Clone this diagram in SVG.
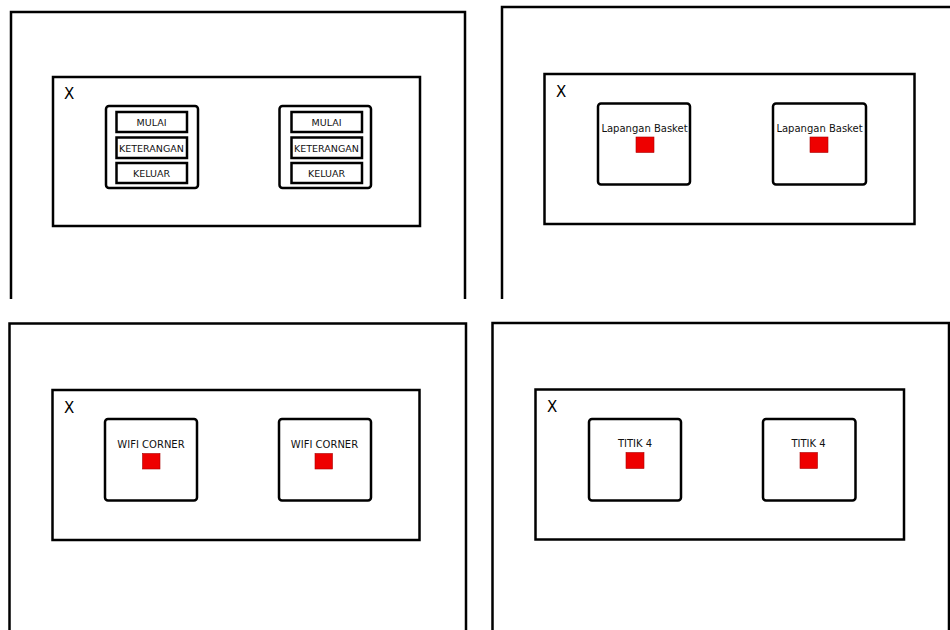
<svg xmlns="http://www.w3.org/2000/svg" width="950" height="630" viewBox="0 0 950 630">
<style>
.panel{fill:none;stroke:#000;stroke-width:2.5}
.win{fill:#fff;stroke:#000;stroke-width:2.5}
.box{fill:#fff;stroke:#000;stroke-width:2.5}
.btn{fill:#fff;stroke:#000;stroke-width:2.5}
.red{fill:#ee0000;stroke:#a00;stroke-width:0.6}
.x{font-family:"DejaVu Sans","Liberation Sans",sans-serif;font-size:15px;fill:#000}
.bt{font-family:"DejaVu Sans","Liberation Sans",sans-serif;font-size:9.5px;fill:#111;text-anchor:middle}
.lb{font-family:"DejaVu Sans","Liberation Sans",sans-serif;font-size:10px;fill:#111;text-anchor:middle}
</style>
<rect width="950" height="630" fill="#fff"/>

<g id="panel1">
  <path class="panel" d="M11,299 V12 H465 V299"/>
  <rect class="win" x="53" y="77" width="367" height="149"/>
  <text class="x" x="64" y="99">X</text>
  <g id="menu1">
    <rect class="box" x="106" y="106" width="92" height="82" rx="3"/>
    <rect class="btn" x="116.5" y="112" width="70.5" height="20"/>
    <rect class="btn" x="116.5" y="137.5" width="70.5" height="20.5"/>
    <rect class="btn" x="116.5" y="163" width="70.5" height="20"/>
    <text class="bt" x="151.5" y="125.5">MULAI</text>
    <text class="bt" x="151.5" y="151.5">KETERANGAN</text>
    <text class="bt" x="151.5" y="177">KELUAR</text>
  </g>
  <g id="menu2">
    <rect class="box" x="279.5" y="106" width="91.5" height="82" rx="3"/>
    <rect class="btn" x="291.5" y="112" width="70.5" height="20"/>
    <rect class="btn" x="291.5" y="137.5" width="70.5" height="20.5"/>
    <rect class="btn" x="291.5" y="163" width="70.5" height="20"/>
    <text class="bt" x="326.5" y="125.5">MULAI</text>
    <text class="bt" x="326.5" y="151.5">KETERANGAN</text>
    <text class="bt" x="326.5" y="177">KELUAR</text>
  </g>
</g>

<g id="panel2">
  <path class="panel" d="M502,299 V7 H951"/>
  <rect class="win" x="544.5" y="74" width="370" height="150"/>
  <text class="x" x="556" y="97">X</text>
  <g id="basket1">
    <rect class="box" x="598" y="103.5" width="92" height="81" rx="3"/>
    <text class="lb" x="644.5" y="131.5">Lapangan Basket</text>
    <rect class="red" x="636" y="137" width="18" height="15.5"/>
  </g>
  <g id="basket2">
    <rect class="box" x="773" y="103.5" width="93" height="81" rx="3"/>
    <text class="lb" x="819.5" y="131.5">Lapangan Basket</text>
    <rect class="red" x="810" y="137" width="18" height="15.5"/>
  </g>
</g>

<g id="panel3">
  <path class="panel" d="M9.5,631 V323.5 H466 V631"/>
  <rect class="win" x="52.5" y="390" width="367" height="150"/>
  <text class="x" x="64" y="413">X</text>
  <g id="wifi1">
    <rect class="box" x="105" y="419" width="92" height="81.5" rx="3"/>
    <text class="lb" x="151" y="447.5">WIFI CORNER</text>
    <rect class="red" x="142.5" y="453.5" width="17.5" height="15.5"/>
  </g>
  <g id="wifi2">
    <rect class="box" x="279" y="419" width="92" height="81.5" rx="3"/>
    <text class="lb" x="324.5" y="447.5">WIFI CORNER</text>
    <rect class="red" x="315" y="453.5" width="17.5" height="15.5"/>
  </g>
</g>

<g id="panel4">
  <path class="panel" d="M492.5,631 V323 H949 V631"/>
  <rect class="win" x="535.5" y="389.5" width="368.5" height="150"/>
  <text class="x" x="547" y="412">X</text>
  <g id="titik1">
    <rect class="box" x="589" y="419" width="92" height="81.5" rx="3"/>
    <text class="lb" x="635" y="447">TITIK 4</text>
    <rect class="red" x="626" y="452.5" width="18" height="16"/>
  </g>
  <g id="titik2">
    <rect class="box" x="763" y="419" width="92.5" height="81.5" rx="3"/>
    <text class="lb" x="808.5" y="447">TITIK 4</text>
    <rect class="red" x="800" y="452.5" width="17.5" height="16"/>
  </g>
</g>
</svg>
